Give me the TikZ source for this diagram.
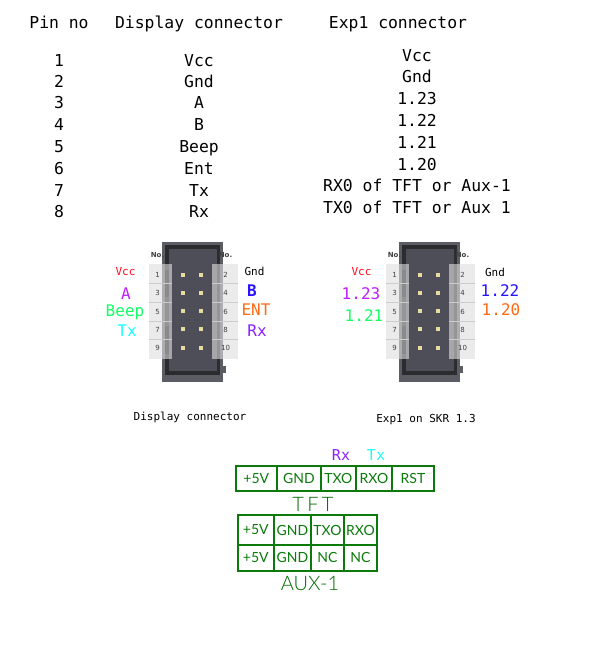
\documentclass[tikz,border=0pt]{standalone}
\usepackage{fontspec}
\setmainfont{DejaVu Sans Mono}
\newfontfamily\cadfont{Lato}
\newfontfamily\cadlight{Lato Light}
\newfontfamily\labfont{DejaVu Sans}
\definecolor{cadgreen}{HTML}{0B7A0B}
\definecolor{cadtitlecol}{HTML}{006A00}
\definecolor{lred}{HTML}{FF0A1E}
\definecolor{lviolet}{HTML}{BF1FFF}
\definecolor{lgreen}{HTML}{14FF64}
\definecolor{lcyan}{HTML}{19FFFF}
\definecolor{lblue}{HTML}{2A14FF}
\definecolor{lorange}{HTML}{FF6A14}
\definecolor{lpurple}{HTML}{8A1FFF}
\definecolor{bodyout}{HTML}{5C5C64}
\definecolor{bodyband}{HTML}{2C2C2E}
\definecolor{bodyin}{HTML}{4E4E58}
\definecolor{panel}{HTML}{EBEBEB}
\definecolor{pincol}{HTML}{E6DCA0}
\tikzset{
  mono/.style={inner sep=0pt,anchor=base,font=\fontsize{16.4}{18}\selectfont},
  conlab/.style={inner sep=0pt,font=\labfont\fontsize{7}{8}\selectfont,text=black!75},
  colab/.style={inner sep=0pt,font=\fontsize{16}{18}\selectfont},
  smalllab/.style={inner sep=0pt,font=\fontsize{11}{13}\selectfont},
  caption/.style={inner sep=0pt,anchor=base,font=\fontsize{11}{12}\selectfont},
  cell/.style={draw=cadgreen,line width=1.9pt,inner sep=0pt,text=cadgreen,font=\cadfont\fontsize{14}{16}\selectfont},
  cadtitle/.style={inner sep=0pt,text=cadtitlecol,font=\cadlight\fontsize{20}{22}\selectfont},
  pin/.style={fill=pincol,draw=none},
}
\newcommand{\connector}[1]{%
\begin{scope}[xshift=#1pt]
  \fill[panel] (149,264) rectangle (172,359);
  \fill[panel] (212,264) rectangle (238,359);
  \fill[bodyout] (161.5,241.5) rectangle (223,382);
  \fill[bodyband] (165,245) rectangle (220,375);
  \fill[bodyin] (168.5,248.5) rectangle (216.5,371);
  \fill[bodyout] (223,366) rectangle (226,373);
  \fill[white,opacity=.5] (161.5,264) rectangle (172,359);
  \fill[white,opacity=.5] (212,264) rectangle (223,359);
  \fill[black!50,opacity=.5] (165,270) rectangle (169,297);
  \fill[black!50,opacity=.5] (165,326) rectangle (169,354);
  \foreach \yy in {283,302,321,339} {
    \draw[white!80!black,line width=.6pt] (149,\yy) -- (172,\yy);
    \draw[white!80!black,line width=.6pt] (212,\yy) -- (238,\yy);
  }
  \foreach \yy in {274.7,293,311.3,329.3,347.7} {
    \fill[pin] (180.7,\yy-1.9) rectangle +(3.8,3.8);
    \fill[pin] (199.2,\yy-1.9) rectangle +(3.8,3.8);
  }
  \node[conlab] at (157.5,255) {\textbf{No.}};
  \node[conlab] at (225.5,255) {\textbf{No.}};
  \node[conlab] at (157.7,274.5) {1};
  \node[conlab] at (157.7,293) {3};
  \node[conlab] at (157.7,311.5) {5};
  \node[conlab] at (157.7,329.5) {7};
  \node[conlab] at (157.7,348) {9};
  \node[conlab] at (225.5,274.5) {2};
  \node[conlab] at (225.5,293) {4};
  \node[conlab] at (225.5,311.5) {6};
  \node[conlab] at (225.5,329.5) {8};
  \node[conlab] at (225.5,348) {10};
\end{scope}}
\begin{document}
\begin{tikzpicture}[x=1pt,y=-1pt]
\useasboundingbox (0,0) rectangle (600,650);
\fill[white] (0,0) rectangle (600,650);
% header
\node[mono] (h1) at (59,29) {Pin no};
\node[mono] (h2) at (199,29) {Display connector};
\node[mono] (h3) at (398,29) {Exp1 connector};
% table
\foreach \n/\t/\yy in {1/1/67,2/2/88,3/3/109,4/4/131,5/5/153,6/6/174,7/7/196,8/8/217} {
  \node[mono] (p\n) at (59,\yy) {\t};
}
\foreach \n/\t/\yy in {1/Vcc/67,2/Gnd/88,3/A/109,4/B/131,5/Beep/153,6/Ent/174,7/Tx/196,8/Rx/217} {
  \node[mono] (d\n) at (199,\yy) {\t};
}
\foreach \n/\t/\yy in {1/Vcc/62,2/Gnd/83,3/1.23/105,4/1.22/126,5/1.21/148,6/1.20/170,7/RX0 of TFT or Aux-1/191,8/TX0 of TFT or Aux 1/213} {
  \node[mono] (e\n) at (417,\yy) {\t};
}
% connectors
\connector{0}
\connector{237}
% left labels
\node[smalllab,text=lred] (l1) at (125.5,272) {Vcc};
\node[colab,text=lviolet] (l2) at (126,294) {A};
\node[colab,text=lgreen] (l3) at (125,312) {Beep};
\node[colab,text=lcyan] (l4) at (127,331) {Tx};
\node[smalllab] (r1) at (254.5,271.5) {Gnd};
\node[colab,text=lblue,font=\bfseries\fontsize{16}{18}\selectfont] (r2) at (252,291) {B};
\node[colab,text=lorange] (r3) at (256,310) {ENT};
\node[colab,text=lpurple] (r4) at (257,331) {Rx};
\node[caption] (c1) at (190,420) {Display connector};
% right labels
\node[smalllab,text=lred] (x1) at (361.5,271.5) {Vcc};
\node[colab,text=lviolet] (x2) at (361,294) {1.23};
\node[colab,text=lgreen] (x3) at (364,315.5) {1.21};
\node[smalllab] (y1) at (495,272) {Gnd};
\node[colab,text=lblue] (y2) at (500,291) {1.22};
\node[colab,text=lorange] (y3) at (501,310) {1.20};
\node[caption] (c2) at (426,422) {Exp1 on SKR 1.3};
% TFT
\node[colab,text=lpurple,font=\fontsize{15}{18}\selectfont] (rx) at (341,455) {Rx};
\node[colab,text=lcyan,font=\fontsize{15}{18}\selectfont] (tx) at (376,455) {Tx};
\node[cell,minimum width=41.3pt,minimum height=25.3pt] (t1) at (256.35,478.35) {+5V};
\node[cell,minimum width=43.7pt,minimum height=25.3pt] (t2) at (298.85,478.35) {GND};
\node[cell,minimum width=35.3pt,minimum height=25.3pt] (t3) at (338.35,478.35) {TXO};
\node[cell,minimum width=36pt,minimum height=25.3pt] (t4) at (374,478.35) {RXO};
\node[cell,minimum width=42pt,minimum height=25.3pt] (t5) at (413,478.35) {RST};
\node[cadtitle] (tft) at (313,504) {T\,F\,T};
% AUX
\node[cell,minimum width=36.3pt,minimum height=30pt] (a1) at (255.85,530) {+5V};
\node[cell,minimum width=37pt,minimum height=30pt] (a2) at (292.5,530) {GND};
\node[cell,minimum width=33pt,minimum height=30pt] (a3) at (327.5,530) {TXO};
\node[cell,minimum width=33pt,minimum height=30pt] (a4) at (360.5,530) {RXO};
\node[cell,minimum width=36.3pt,minimum height=25.7pt] (b1) at (255.85,557.85) {+5V};
\node[cell,minimum width=37pt,minimum height=25.7pt] (b2) at (292.5,557.85) {GND};
\node[cell,minimum width=33pt,minimum height=25.7pt] (b3) at (327.5,557.85) {NC};
\node[cell,minimum width=33pt,minimum height=25.7pt] (b4) at (360.5,557.85) {NC};
\node[cadtitle] (aux) at (310,583) {AUX-1};
\end{tikzpicture}
\end{document}
